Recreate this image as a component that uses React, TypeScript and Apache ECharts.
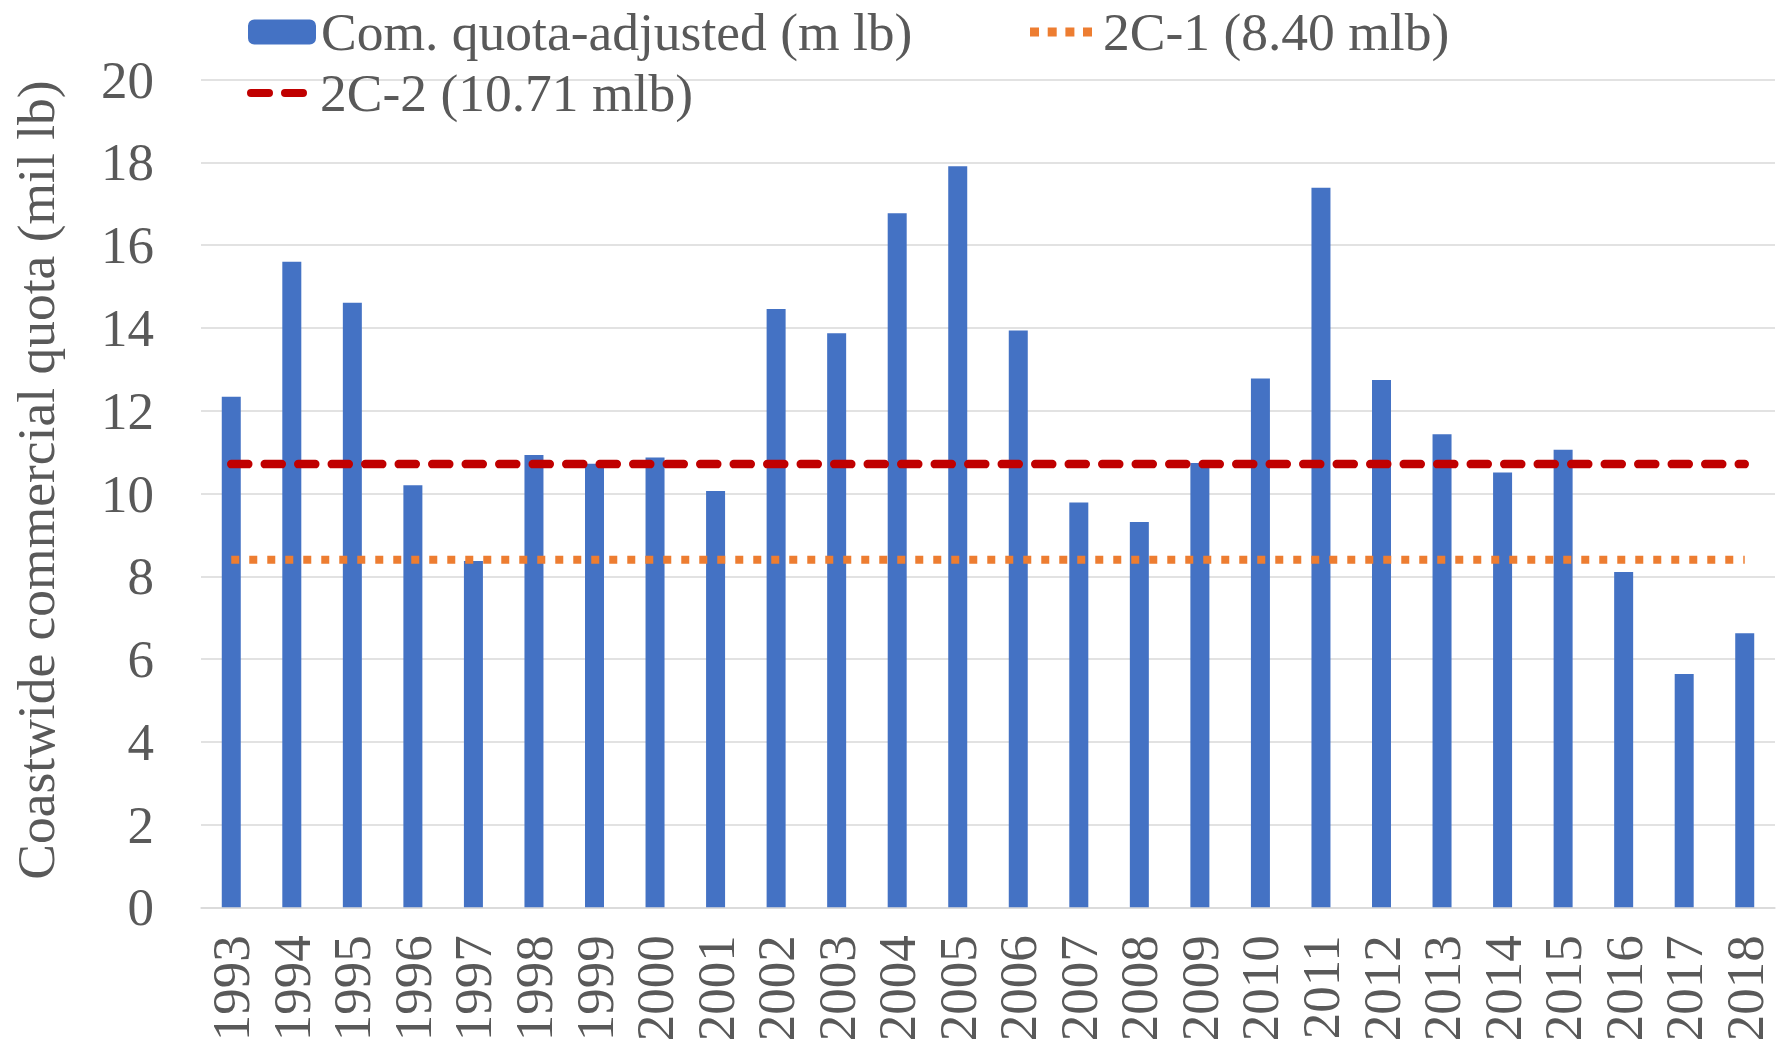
import React, { useEffect, useRef } from "react";
import * as echarts from "echarts";

const years = ["1993","1994","1995","1996","1997","1998","1999","2000","2001","2002","2003","2004","2005","2006","2007","2008","2009","2010","2011","2012","2013","2014","2015","2016","2017","2018"];
const quota = [12.34,15.60,14.61,10.20,8.37,10.93,10.72,10.87,10.06,14.46,13.87,16.77,17.91,13.94,9.78,9.31,10.74,12.78,17.39,12.74,11.43,10.51,11.06,8.10,5.64,6.62];
const ref2C1 = 8.40;
const ref2C2 = 10.71;
const yTicks = { min: 0, max: 20, interval: 2 };
const names = {
  bar: "Com. quota-adjusted (m lb)",
  c1: "2C-1 (8.40 mlb)",
  c2: "2C-2 (10.71 mlb)",
  yTitle: "Coastwide commercial quota (mil lb)",
};

const FONT = "'Liberation Serif', 'Times New Roman', serif";
const TXT = "#595959";

const dotIcon = "path://M0,0H9V9H0Z M17.7,0H26.7V9H17.7Z M35.4,0H44.4V9H35.4Z M53,0H62V9H53Z";
const dashIcon = "path://M4,0H22A4,4 0 0 1 22,8H4A4,4 0 0 1 4,0Z M38,0H56A4,4 0 0 1 56,8H38A4,4 0 0 1 38,0Z";

export default function App() {
  const ref = useRef<HTMLDivElement>(null);
  useEffect(() => {
    if (!ref.current) return;
    const chart = echarts.init(ref.current, null, { renderer: "svg" });
    const legendText = (pad: number) => ({ fontFamily: FONT, fontSize: 53.5, color: TXT, lineHeight: 50, padding: [0, 0, 0, pad] });
    chart.setOption({
      animation: false,
      backgroundColor: "#ffffff",
      grid: { left: 201, right: 10, top: 79.7, bottom: 142.7, containLabel: false },
      legend: [
        { data: [names.bar], left: 243, top: 0, itemWidth: 68, itemHeight: 25, itemGap: 0, textStyle: legendText(0), selectedMode: false },
        { data: [{ name: names.c1, icon: dotIcon, itemStyle: { color: "#ED7D31" } }], left: 1025, top: 0, itemWidth: 62, itemHeight: 9, itemGap: 0, textStyle: legendText(6), selectedMode: false },
        { data: [{ name: names.c2, icon: dashIcon, itemStyle: { color: "#C00000" } }], left: 242, top: 61, itemWidth: 60, itemHeight: 8, itemGap: 0, textStyle: legendText(8), selectedMode: false },
      ],
      xAxis: {
        type: "category",
        data: years,
        axisLine: { show: true, lineStyle: { color: "#D9D9D9", width: 1.5 } },
        axisTick: { show: false },
        axisLabel: { rotate: 90, margin: 28, fontFamily: FONT, fontSize: 53, color: TXT, interval: 0 },
      },
      yAxis: {
        type: "value",
        min: yTicks.min,
        max: yTicks.max,
        interval: yTicks.interval,
        axisLine: { show: false },
        axisTick: { show: false },
        splitLine: { lineStyle: { color: "#D9D9D9", width: 1.5 } },
        axisLabel: { margin: 47, fontFamily: FONT, fontSize: 53, color: TXT },
      },
      graphic: [
        {
          type: "text",
          x: 36,
          y: 480,
          rotation: Math.PI / 2,
          style: { text: names.yTitle, fontFamily: FONT, fontSize: 53.5, fill: TXT, align: "center", verticalAlign: "middle" },
        },
      ],
      series: [
        {
          name: names.bar,
          type: "bar",
          data: quota,
          barWidth: 19,
          itemStyle: { color: "#4472C4" },
        },
        {
          name: names.c1,
          type: "line",
          data: years.map(() => ref2C1),
          symbol: "none",
          lineStyle: { color: "#ED7D31", width: 8, type: [8, 10], cap: "butt" },
          itemStyle: { color: "#ED7D31" },
          z: 3,
        },
        {
          name: names.c2,
          type: "line",
          data: years.map(() => ref2C2),
          symbol: "none",
          lineStyle: { color: "#C00000", width: 8.5, type: [17, 16.5], cap: "round" },
          itemStyle: { color: "#C00000" },
          z: 4,
        },
      ],
    });
    return () => chart.dispose();
  }, []);
  return (
    <div
      ref={ref}
      style={{ position: "fixed", left: 0, top: 0, width: 1785, height: 1050, background: "#fff" }}
    />
  );
}
